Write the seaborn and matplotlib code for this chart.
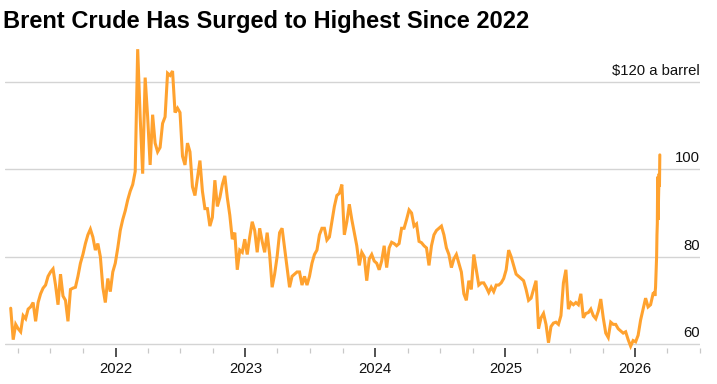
"""
Brent crude price chart, Mar 2021 - Mar 2026.
"""

import matplotlib
matplotlib.use("Agg")
import matplotlib.pyplot as plt
import matplotlib.dates as mdates
import pandas as pd
import seaborn as sns

# Weekly (Friday) Brent prices, $ a barrel
prices_2021 = [68.2, 61.0, 64.5, 63.5, 62.8, 66.5, 65.8, 68.0, 68.5, 69.5,
               65.2, 69.5, 71.5, 72.8, 73.5, 75.5, 76.5, 77.2, 73.5, 69.0,
               76.0, 71.0, 70.0, 65.2, 72.5, 72.8, 73.0, 75.5, 78.5, 80.5,
               83.0, 85.0, 86.3, 84.5, 81.5, 83.0, 80.0, 73.0, 69.5, 75.0,
               72.0, 76.5, 78.5]
prices_2022 = [82.0, 86.0, 88.5, 90.5, 93.0, 95.0, 96.5, 99.5, 127.5, 112.0,
               99.0, 121.0, 112.0, 101.0, 112.5, 106.0, 104.0, 105.0, 110.5, 112.0,
               122.0, 121.5, 122.5, 113.0, 114.0, 113.0, 103.0, 101.0, 106.0, 104.0,
               96.0, 94.0, 98.0, 102.0, 95.0, 91.0, 91.0, 87.0, 89.0, 97.5,
               91.5, 93.5, 96.5, 98.5, 93.5, 89.5, 84.0, 85.5, 77.0, 81.5,
               81.0, 84.0]
prices_2023 = [80.5, 84.5, 88.0, 86.0, 81.0, 86.5, 83.5, 81.0, 85.5, 80.5,
               73.0, 76.0, 80.0, 85.5, 86.5, 82.0, 77.5, 73.0, 75.5, 76.0,
               76.5, 76.5, 73.5, 75.5, 73.5, 75.5, 78.5, 80.5, 81.5, 85.0,
               86.5, 86.5, 83.8, 84.5, 88.0, 91.5, 94.0, 94.5, 96.5, 85.0,
               88.0, 92.0, 88.5, 85.5, 82.5, 78.0, 81.0, 80.0, 74.5, 79.5,
               80.5, 79.0]
prices_2024 = [78.5, 77.0, 79.0, 82.5, 77.5, 82.0, 83.3, 83.0, 82.5, 83.0,
               86.5, 86.5, 88.5, 90.7, 90.0, 87.0, 87.5, 83.5, 83.2, 82.5,
               82.0, 78.0, 82.5, 85.0, 86.0, 86.5, 87.0, 85.0, 82.0, 80.5,
               77.5, 79.5, 80.5, 78.5, 76.5, 71.5, 70.0, 74.5, 72.5, 80.5,
               77.0, 73.5, 74.0, 74.0, 73.0, 71.8, 73.0, 72.0, 73.5, 73.5,
               74.0, 75.0]
prices_2025 = [77.0, 81.5, 80.0, 78.0, 76.0, 75.5, 75.0, 74.5, 72.5, 70.0,
               70.5, 72.5, 74.5, 63.5, 66.0, 67.0, 64.5, 60.3, 64.0, 64.8,
               65.0, 64.5, 66.5, 74.0, 77.0, 68.0, 69.5, 69.0, 69.5, 69.0,
               71.5, 66.0, 67.0, 67.2, 68.0, 66.5, 65.8, 67.5, 70.3, 66.0,
               62.5, 61.5, 65.0, 64.5, 64.5, 63.5, 63.0, 62.5, 62.8, 61.0,
               59.5, 60.8]
prices_2026 = [60.5, 62.0, 65.5, 68.0, 70.5, 68.5, 69.0, 71.5]

# Daily closes for the final surge
tail_dates = ["2026-02-23", "2026-02-24", "2026-02-25", "2026-02-26", "2026-02-27",
              "2026-03-02", "2026-03-03", "2026-03-04", "2026-03-05", "2026-03-06",
              "2026-03-09", "2026-03-10", "2026-03-11"]
tail_prices = [71.5, 72.0, 71.0, 72.0, 73.0, 80.0, 85.0, 87.6, 98.3, 88.4,
               99.0, 96.0, 103.3]

grid_values = [60, 80, 100, 120]
grid_labels = ["60", "80", "100", "$120 a barrel"]

LINE_COLOR = "#FFA22F"

sns.set_style("white")
plt.rcParams["font.family"] = ["Liberation Sans", "DejaVu Sans"]


def build_frame():
    weekly = prices_2021 + prices_2022 + prices_2023 + prices_2024 + prices_2025 + prices_2026
    weekly_dates = pd.date_range("2021-03-12", periods=len(weekly), freq="7D")
    dates = list(weekly_dates) + list(pd.to_datetime(tail_dates))
    return pd.DataFrame({"date": dates, "price": weekly + tail_prices})


def main():
    df = build_frame()

    fig = plt.figure(figsize=(7.17, 3.84), dpi=100)
    ax = fig.add_axes([0.007, 0.0927, 0.9693, 0.8031])

    sns.lineplot(data=df, x="date", y="price", ax=ax, color=LINE_COLOR,
                 linewidth=2.2, zorder=3)
    for line in ax.lines:
        line.set_clip_on(False)
        line.set_solid_joinstyle("miter")

    ax.set_xlim(pd.Timestamp("2021-02-24"), pd.Timestamp("2026-07-02"))
    ax.set_ylim(59, 129.6)

    # horizontal grid with labels sitting on top of each line at the right edge
    ax.set_yticks(grid_values)
    ax.yaxis.grid(True, color="#d4d4d4", linewidth=1.0, zorder=0)
    ax.tick_params(axis="y", left=False, right=False, labelleft=False)
    for v, lab in zip(grid_values, grid_labels):
        ax.annotate(lab, xy=(1.0, v), xycoords=("axes fraction", "data"),
                    xytext=(0, 3), textcoords="offset points",
                    ha="right", va="bottom", fontsize=10.7, color="#111111")

    ax.xaxis.set_major_locator(mdates.YearLocator())
    ax.xaxis.set_major_formatter(mdates.DateFormatter("%Y"))
    ax.xaxis.set_minor_locator(mdates.MonthLocator(bymonth=[4, 7, 10]))
    ax.tick_params(axis="x", which="both", bottom=True, top=False)
    ax.tick_params(axis="x", which="major", length=6.5, width=1.2,
                   color="#333333", labelsize=10.7, labelcolor="#111111", pad=3)
    ax.tick_params(axis="x", which="minor", length=3.5, width=0.9, color="#c8c8c8")
    ax.set_xlabel("")
    ax.set_ylabel("")

    for spine in ax.spines.values():
        spine.set_visible(False)

    fig.text(0.004, 0.975, "Brent Crude Has Surged to Highest Since 2022",
             ha="left", va="top", fontsize=17, fontweight="bold",
             color="#000000")

    fig.savefig("out.png", dpi=100)
    plt.close(fig)


if __name__ == "__main__":
    main()
